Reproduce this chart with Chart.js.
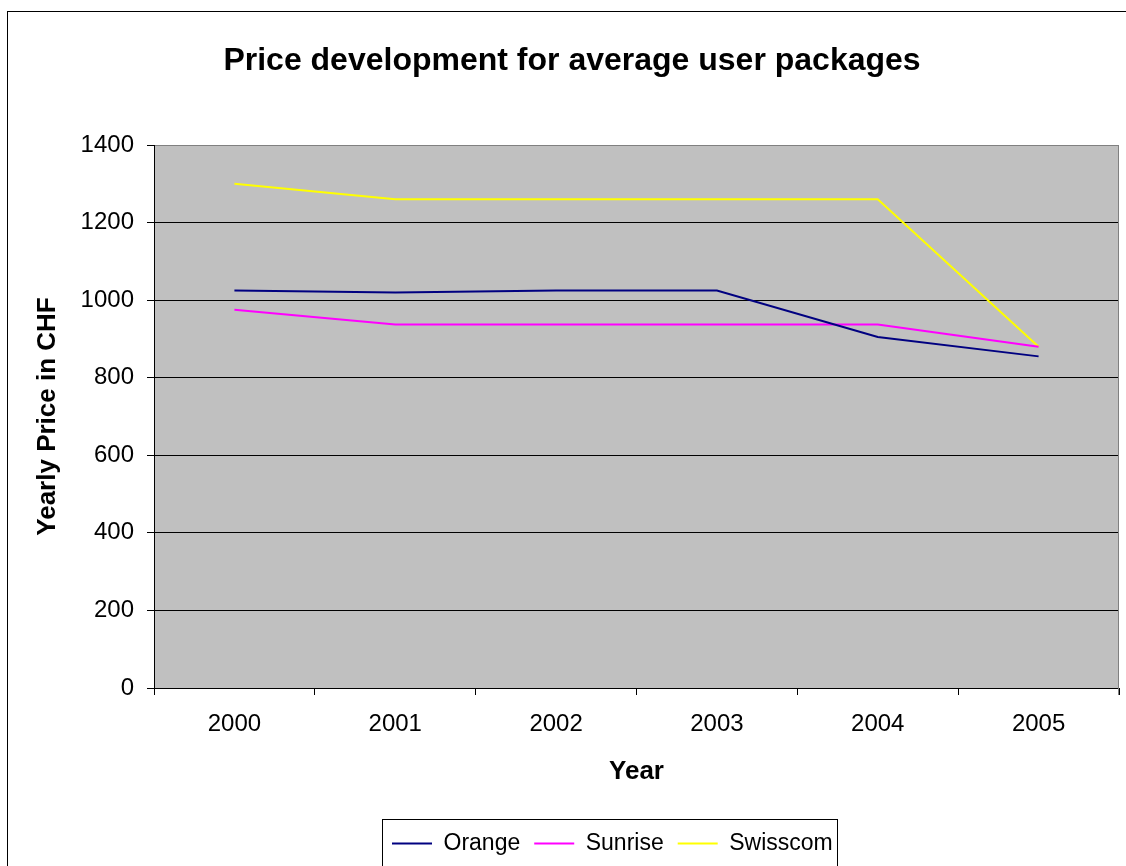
<!DOCTYPE html>
<html>
<head>
<meta charset="utf-8">
<script src="https://cdn.jsdelivr.net/npm/chart.js@4/dist/chart.umd.min.js"></script>
<style>
  html, body { margin: 0; padding: 0; background: #fff; overflow: hidden; }
  #wrap { position: absolute; left: 0; top: 0; width: 1126px; height: 866px; }
</style>
</head>
<body>
<div id="wrap"><canvas id="c" width="1126" height="866"></canvas></div>
<script>
const years = ['2000', '2001', '2002', '2003', '2004', '2005'];
const orange = [1025, 1020, 1025, 1025, 905, 855];
const sunrise = [975, 937, 937, 937, 937, 880];
const swisscom = [1300, 1260, 1260, 1260, 1260, 880];
const seriesNames = ['Orange', 'Sunrise', 'Swisscom'];
const seriesColors = ['#000080', '#FF00FF', '#FFFF00'];
const yMin = 0, yMax = 1400, yStep = 200;

const FONT = "'Liberation Sans', Arial, sans-serif";

const framePlugin = {
  id: 'frame',
  beforeDraw(chart) {
    const ctx = chart.ctx;
    const a = chart.chartArea;
    ctx.save();
    ctx.fillStyle = '#fff';
    ctx.fillRect(0, 0, chart.width, chart.height);
    ctx.strokeStyle = '#000';
    ctx.lineWidth = 1;
    ctx.strokeRect(7.5, 11.5, 2000, 2000);
    ctx.fillStyle = '#C0C0C0';
    ctx.fillRect(a.left, a.top, a.right - a.left, a.bottom - a.top);
    ctx.restore();
  },
  beforeDatasetsDraw(chart) {
    const ctx = chart.ctx;
    const a = chart.chartArea;
    ctx.save();
    ctx.strokeStyle = '#808080';
    ctx.lineWidth = 1;
    ctx.beginPath();
    ctx.moveTo(Math.round(a.right) - 0.5, a.top);
    ctx.lineTo(Math.round(a.right) - 0.5, a.bottom + 7);
    ctx.stroke();
    ctx.restore();
  },
  afterLayout(chart) {
    if (chart.legend) {
      chart.legend.left = 378;
    }
  },
  afterDraw(chart) {
    const lg = chart.legend;
    if (!lg || !lg.legendHitBoxes || !lg.legendHitBoxes.length) return;
    const hb = lg.legendHitBoxes;
    const l = hb[0].left - 10;
    const last = hb[hb.length - 1];
    const r = last.left + last.width + 4;
    const t = lg.top + 1;
    const ctx = chart.ctx;
    ctx.save();
    ctx.strokeStyle = '#000';
    ctx.lineWidth = 1;
    ctx.strokeRect(Math.round(l) + 0.5, Math.round(t) + 0.5, Math.round(r - l), 200);
    ctx.restore();
  }
};

const datasets = [orange, sunrise, swisscom].map((vals, i) => ({
  label: seriesNames[i],
  data: vals,
  borderColor: seriesColors[i],
  backgroundColor: seriesColors[i],
  borderWidth: 2,
  pointRadius: 0,
  pointHoverRadius: 0,
  tension: 0,
  fill: false
}));

new Chart(document.getElementById('c'), {
  type: 'line',
  data: { labels: years, datasets },
  plugins: [framePlugin],
  options: {
    responsive: false,
    animation: false,
    events: [],
    layout: { padding: { left: 25, right: 7, top: 0, bottom: 1 } },
    plugins: {
      title: {
        display: true,
        text: 'Price development for average user packages',
        color: '#000',
        font: { family: FONT, size: 32, weight: 'bold' },
        padding: { top: 42, bottom: 64.6 }
      },
      legend: {
        display: true,
        position: 'bottom',
        align: 'start',
        labels: {
          color: '#000',
          font: { family: FONT, size: 23 },
          boxWidth: 40,
          boxHeight: 2,
          padding: 14,
          generateLabels(chart) {
            return chart.data.datasets.map((ds, i) => ({
              text: ds.label,
              fillStyle: ds.borderColor,
              strokeStyle: ds.borderColor,
              lineWidth: 0,
              fontColor: '#000',
              hidden: false,
              datasetIndex: i
            }));
          }
        }
      },
      tooltip: { enabled: false }
    },
    scales: {
      x: {
        type: 'category',
        offset: true,
        afterFit(scale) { scale.height = 130; },
        grid: {
          offset: true,
          drawOnChartArea: false,
          drawTicks: true,
          tickLength: 7,
          color: '#000',
          tickColor: '#000'
        },
        border: { display: true, color: '#000', width: 1 },
        ticks: {
          color: '#000',
          font: { family: FONT, size: 24 },
          padding: 15,
          maxRotation: 0,
          autoSkip: false
        },
        title: {
          display: true,
          text: 'Year',
          color: '#000',
          font: { family: FONT, size: 26, weight: 'bold' },
          padding: { top: 0, bottom: 31 }
        }
      },
      y: {
        min: yMin,
        max: yMax,
        afterFit(scale) { scale.width = 129; },
        grid: {
          color: (c) => (c.tick && c.tick.value === yMax) ? '#808080' : '#000',
          tickColor: '#000',
          tickLength: 7,
          lineWidth: 1
        },
        border: { display: true, color: '#000', width: 1 },
        ticks: {
          stepSize: yStep,
          color: '#000',
          font: { family: FONT, size: 24 },
          padding: 13,
          callback: (v) => String(v)
        },
        title: {
          display: true,
          text: 'Yearly Price in CHF',
          color: '#000',
          font: { family: FONT, size: 26, weight: 'bold' },
          padding: { top: 7, bottom: 0 }
        }
      }
    }
  }
});
</script>
</body>
</html>
